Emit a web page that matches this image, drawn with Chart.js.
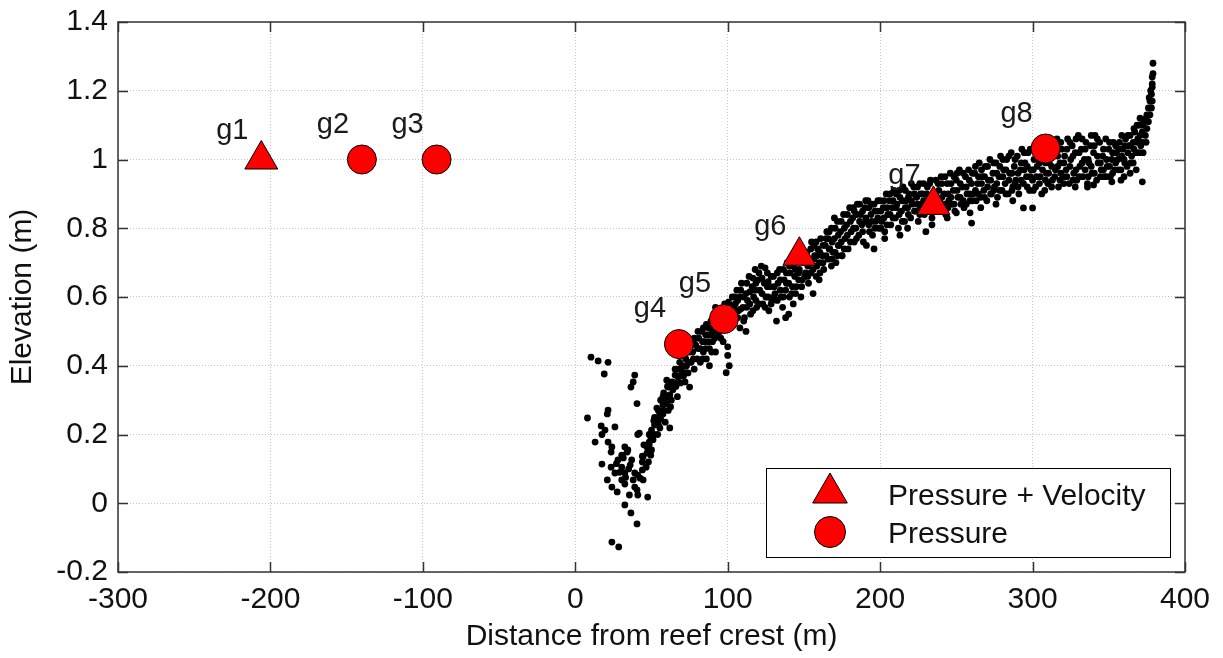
<!DOCTYPE html>
<html><head><meta charset="utf-8">
<script src="https://cdn.jsdelivr.net/npm/chart.js@4.4.0/dist/chart.umd.min.js"></script>
<style>html,body{margin:0;padding:0;background:#fff;}#wrap{width:1223px;height:658px;}</style>
</head><body><div id="wrap"><canvas id="c" width="1223" height="658"></canvas></div>
<script>
const xTickValues = [-300,-200,-100,0,100,200,300,400];
const xTickLabels = ['-300','-200','-100','0','100','200','300','400'];
const yTickValues = [-0.2,0,0.2,0.4,0.6,0.8,1,1.2,1.4];
const yTickLabels = ['-0.2','0','0.2','0.4','0.6','0.8','1','1.2','1.4'];
const xTitle = 'Distance from reef crest (m)';
const yTitle = 'Elevation (m)';
const legendLabels = ['Pressure + Velocity','Pressure'];

const pvNames = ['g1','g6','g7'];
const pvX = [-206,147,235];
const pvY = [1.0,0.72,0.868];
const pNames = ['g2','g3','g4','g5','g8'];
const pX = [-140,-91,68,97.5,308.5];
const pY = [1.0,1.0,0.463,0.536,1.032];

const profileTail = [[10.3,0.425],[15,0.414],[21.5,0.41],[19,0.376],[39,0.373],[38,0.353],[36.5,0.338],[40.5,0.29],[21.5,0.271],[21,0.26],[8,0.248],[17,0.225],[26,0.222],[19.5,0.213],[17.5,0.2],[41,0.2],[13,0.178],[21.5,0.178],[24,0.164],[23.5,0.149],[32.5,0.164],[34,0.149],[30.5,0.14],[44,0.137],[28,0.126],[17.5,0.114],[23.5,0.105],[30.5,0.105],[36,0.111],[44,0.097],[32.5,0.088],[39,0.088],[26,0.088],[21,0.068],[30.5,0.068],[38,0.068],[44.5,0.068],[24,0.047],[32.5,0.056],[27.5,0.033],[40.5,0.039],[35.5,0.024],[41,0.024],[47.5,0.018],[32.5,-0.005],[36.5,-0.028],[40.5,-0.06],[24,-0.113],[28.5,-0.127],[34.5,0.155],[31.5,0.132],[37,0.126],[41,0.082],[42.5,0.073],[39,0.047],[29,0.09],[35,0.1],[27,0.115],[33,0.075]];

const profileLowerSlope = [[47,0.146],[44.5,0.135],[47,0.164],[48.5,0.178],[49.5,0.193],[50,0.213],[52,0.228],[53.5,0.248],[55.5,0.262],[53.5,0.277],[57.5,0.286],[59,0.306],[58,0.321],[62,0.315],[61,0.338],[63.5,0.353],[60,0.358],[65.5,0.373],[67.5,0.367],[70,0.382],[72,0.353],[75,0.338],[74,0.379],[62,0.219],[59,0.236],[55.5,0.219],[50,0.155],[46.5,0.105],[42,0.204],[44,0.12],[49.5,0.14],[45,0.17],[51,0.185],[54,0.2],[56,0.245],[58,0.27],[60,0.29],[61,0.27],[63,0.3],[64,0.33],[66,0.34],[67,0.31],[68,0.39],[69,0.35],[71,0.37],[73,0.4],[56,0.3],[52,0.25],[48,0.12],
[76,0.41],[77,0.44],[78,0.39],[79,0.46],[80,0.42],[81,0.48],[82,0.45],[82,0.41],[83,0.5],[84,0.44],[85,0.47],[86,0.42],[86,0.52],[87,0.49],[88,0.45],[89,0.53],[90,0.47],[90,0.5],[91,0.55],[92,0.44],[93,0.52],[94,0.49],[95,0.56],[96,0.51],[97,0.47],[98,0.58],[99,0.54],[100,0.455],[101,0.4],[99,0.38],[100,0.43],[75,0.44],[78,0.48],[84,0.51],[88,0.4],[92,0.57],[96,0.55],
[48.5,0.17],[48.5,0.2],[51.5,0.2],[51.5,0.24],[54.5,0.23],[54.5,0.27],[57.5,0.26],[57.5,0.31],[60.5,0.31],[60.5,0.34],[62.5,0.34],[62.5,0.28],[65.5,0.35],[65.5,0.39],[68.5,0.41],[68.5,0.37],[70.5,0.4],[70.5,0.43],[72.5,0.42],[72.5,0.38],[74.5,0.41],[74.5,0.45],[77.5,0.42],[77.5,0.47],[80.5,0.45],[80.5,0.5],[83.5,0.47],[83.5,0.42],[85.5,0.49],[85.5,0.45],[87.5,0.51],[87.5,0.47],[89.5,0.49],[89.5,0.44],[91.5,0.52],[91.5,0.48],[93.5,0.5],[93.5,0.55],[95.5,0.53],[95.5,0.48],[97.5,0.51],[97.5,0.56]];

const profileUpperSlope = [[100,0.52],[101,0.57],[102,0.55],[103,0.6],[104,0.53],[105,0.58],[106,0.62],[107,0.56],[108,0.51],[108,0.6],[109,0.64],[110,0.57],[111,0.54],[112,0.61],[113,0.59],[114,0.66],[115,0.55],[116,0.63],[117,0.6],[118,0.68],[119,0.57],[120,0.65],[121,0.62],[122,0.69],[123,0.58],[124,0.64],[125,0.6],[126,0.67],[127,0.56],[128,0.63],[129,0.59],[130,0.66],[131,0.61],[132,0.53],[133,0.64],[134,0.68],[135,0.6],[136,0.57],[137,0.65],[138,0.62],[139,0.7],[140,0.55],[140,0.64],[141,0.67],[142,0.61],[143,0.69],[144,0.66],[145,0.63],[146,0.71],[147,0.68],[148,0.6],[149,0.65],[150,0.7],[138,0.54],[143,0.58],[112,0.5],[104,0.57],[118,0.62],[126,0.63],
[151,0.67],[152,0.73],[153,0.64],[154,0.7],[155,0.76],[156,0.68],[157,0.72],[158,0.66],[159,0.74],[160,0.7],[161,0.77],[162,0.72],[163,0.68],[164,0.75],[165,0.79],[166,0.71],[167,0.74],[168,0.8],[169,0.73],[170,0.77],[171,0.7],[172,0.82],[173,0.75],[174,0.79],[175,0.72],[176,0.84],[177,0.77],[178,0.81],[179,0.74],[180,0.86],[181,0.79],[182,0.83],[183,0.76],[184,0.8],[185,0.87],[186,0.78],[187,0.84],[188,0.81],[189,0.76],[190,0.86],[191,0.82],[192,0.88],[193,0.79],[194,0.84],[195,0.78],[196,0.87],[197,0.82],[198,0.85],[199,0.8],[200,0.88],[156,0.61],[160,0.65],[168,0.69],[172,0.72],[175,0.72],[191,0.75],[196,0.74],[158,0.76],[166,0.77],[183,0.85],[170,0.83],
[100.5,0.55],[100.5,0.585],[102.5,0.52],[102.5,0.575],[104.5,0.6],[104.5,0.555],[106.5,0.54],[106.5,0.59],[108.5,0.565],[108.5,0.62],[110.5,0.6],[110.5,0.53],[112.5,0.57],[112.5,0.64],[114.5,0.58],[114.5,0.615],[116.5,0.56],[116.5,0.655],[118.5,0.59],[118.5,0.64],[120.5,0.58],[120.5,0.67],[122.5,0.61],[122.5,0.655],[124.5,0.57],[124.5,0.685],[126.5,0.6],[126.5,0.645],[128.5,0.58],[128.5,0.66],[130.5,0.63],[130.5,0.6],[132.5,0.59],[132.5,0.67],[134.5,0.62],[134.5,0.65],[136.5,0.6],[136.5,0.68],[138.5,0.64],[138.5,0.67],[140.5,0.6],[140.5,0.69],[142.5,0.63],[142.5,0.7],[144.5,0.61],[144.5,0.68],[146.5,0.65],[146.5,0.67],[148.5,0.63],[148.5,0.72],
[150.5,0.66],[150.5,0.73],[152.5,0.69],[152.5,0.66],[154.5,0.67],[154.5,0.74],[156.5,0.71],[156.5,0.75],[158.5,0.69],[158.5,0.72],[160.5,0.73],[160.5,0.67],[162.5,0.75],[162.5,0.7],[164.5,0.72],[164.5,0.77],[166.5,0.74],[166.5,0.79],[168.5,0.76],[168.5,0.71],[170.5,0.73],[170.5,0.8],[172.5,0.78],[172.5,0.75],[174.5,0.76],[174.5,0.82],[176.5,0.8],[176.5,0.74],[178.5,0.78],[178.5,0.84],[180.5,0.82],[180.5,0.76],[182.5,0.8],[182.5,0.86],[184.5,0.84],[184.5,0.77],[186.5,0.82],[186.5,0.87],[188.5,0.85],[188.5,0.79],[190.5,0.83],[190.5,0.88],[192.5,0.81],[192.5,0.86],[194.5,0.87],[194.5,0.82],[196.5,0.8],[196.5,0.85],[198.5,0.83],[198.5,0.88]];

const profileFlat = [[201,0.82],[202,0.86],[203,0.79],[204,0.9],[205,0.84],[206,0.88],[207,0.81],[208,0.86],[209,0.91],[210,0.83],[211,0.87],[212,0.8],[213,0.89],[214,0.85],[215,0.92],[216,0.82],[217,0.88],[218,0.86],[219,0.9],[220,0.83],[221,0.87],[222,0.92],[223,0.85],[224,0.89],[225,0.82],[226,0.93],[227,0.87],[228,0.9],[229,0.84],[230,0.88],[231,0.92],[232,0.86],[233,0.94],[234,0.83],[236,0.9],[237,0.85],[238,0.93],[239,0.88],[240,0.95],[241,0.86],[242,0.9],[243,0.84],[244,0.93],[245,0.88],[246,0.96],[247,0.87],[248,0.91],[249,0.85],[250,0.94],[251,0.89],[252,0.97],[253,0.87],[254,0.92],[255,0.86],[256,0.95],[257,0.9],[258,0.97],[259,0.88],[260,0.93],[203,0.77],[213,0.78],[234,0.81],[244,0.83],[230,0.79],[218,0.8],[226,0.84],[259,0.845],[250,0.845],[260,0.815],[294,0.859],[300,0.859],
[261,0.9],[262,0.96],[263,0.88],[264,0.93],[265,0.99],[266,0.89],[267,0.95],[268,0.91],[269,0.98],[270,0.88],[271,0.94],[272,1.0],[273,0.9],[274,0.96],[275,0.92],[276,0.99],[277,0.89],[278,0.95],[279,1.01],[280,0.91],[281,0.97],[282,0.93],[283,1.0],[284,0.9],[285,0.96],[286,1.02],[287,0.92],[288,0.98],[289,0.94],[290,1.01],[291,0.9],[292,0.97],[293,1.03],[294,0.93],[295,0.99],[296,0.95],[297,1.02],[298,0.91],[299,0.97],[300,0.94],[301,1.0],[302,0.92],[303,0.98],[304,1.04],[305,0.95],[306,0.9],[307,1.01],[309,0.96],[310,0.93],[311,0.99],[312,1.05],[313,0.94],[314,1.01],[315,0.97],[316,1.06],[317,0.92],[318,0.99],[319,1.03],[320,0.95],[321,1.01],[322,0.97],[323,1.06],[324,0.93],[325,1.0],[326,1.04],[327,0.96],[328,1.02],[329,0.94],[330,1.07],[331,0.98],[332,1.03],[333,0.95],[334,1.0],[335,1.05],[336,0.93],[337,0.99],[338,1.04],[339,0.96],[340,1.02],[341,1.07],[342,0.94],[343,0.99],[344,1.05],[345,0.97],[346,1.01],[347,0.95],[348,1.06],[349,0.98],[350,1.03],[351,0.95],[352,1.0],[353,1.05],[354,0.97],[355,1.02],[352,0.935],[336,0.92],[328,0.92],[318,0.94],[308,0.91],[287,0.88],[276,0.87],[266,0.86],[340,0.926],
[200.5,0.85],[200.5,0.8],[202.5,0.88],[202.5,0.83],[204.5,0.81],[204.5,0.86],[206.5,0.84],[206.5,0.9],[208.5,0.83],[208.5,0.88],[210.5,0.86],[210.5,0.9],[212.5,0.84],[212.5,0.91],[214.5,0.82],[214.5,0.88],[216.5,0.86],[216.5,0.91],[218.5,0.84],[218.5,0.89],[220.5,0.88],[220.5,0.93],[222.5,0.85],[222.5,0.9],[224.5,0.87],[224.5,0.92],[226.5,0.86],[226.5,0.9],[228.5,0.88],[228.5,0.93],[230.5,0.86],[230.5,0.9],[232.5,0.89],[232.5,0.93],[236.5,0.88],[236.5,0.94],[238.5,0.86],[238.5,0.91],[240.5,0.89],[240.5,0.93],[242.5,0.87],[242.5,0.95],[244.5,0.9],[244.5,0.86],[246.5,0.89],[246.5,0.93],[248.5,0.87],[248.5,0.95],[250.5,0.91],[250.5,0.96],[252.5,0.89],[252.5,0.93],[254.5,0.88],[254.5,0.96],[256.5,0.92],[256.5,0.87],[258.5,0.9],[258.5,0.94],
[260.5,0.88],[260.5,0.96],[262.5,0.91],[262.5,0.98],[264.5,0.9],[264.5,0.95],[266.5,0.93],[266.5,0.97],[268.5,0.89],[268.5,0.95],[270.5,0.92],[270.5,0.98],[272.5,0.94],[272.5,0.9],[274.5,0.91],[274.5,0.99],[276.5,0.93],[276.5,0.96],[278.5,0.91],[278.5,0.98],[280.5,0.95],[280.5,1.0],[282.5,0.9],[282.5,0.97],[284.5,0.94],[284.5,1.01],[286.5,0.96],[286.5,0.91],[288.5,0.93],[288.5,1.0],[290.5,0.96],[290.5,0.92],[292.5,0.94],[292.5,0.99],[294.5,0.97],[294.5,1.02],[296.5,0.92],[296.5,0.98],[298.5,0.95],[298.5,1.03],[300.5,0.97],[300.5,0.91],[302.5,0.95],[302.5,1.01],[304.5,0.93],[304.5,0.99],[306.5,0.97],[306.5,1.03],[308.5,0.94],[308.5,0.99],[310.5,0.96],[310.5,1.02],[312.5,0.92],[312.5,0.98],[314.5,0.95],[314.5,1.04],[316.5,0.98],[316.5,1.01],[318.5,0.96],[318.5,1.05],[320.5,0.93],[320.5,0.99],[322.5,1.03],[322.5,0.95],[324.5,0.98],[324.5,1.05],[326.5,0.94],[326.5,1.01],[328.5,0.97],[328.5,1.06],[330.5,0.95],[330.5,1.02],[332.5,0.99],[332.5,1.06],[334.5,0.97],[334.5,1.03],[336.5,1.0],[336.5,0.95],[338.5,0.98],[338.5,1.07],[340.5,0.96],[340.5,1.04],[342.5,1.01],[342.5,1.06],[344.5,0.95],[344.5,0.99],[346.5,1.03],[346.5,0.97],[348.5,1.0],[348.5,0.95],[350.5,0.98],[350.5,1.05],[352.5,1.02],[352.5,0.96],[354.5,0.99],[354.5,1.04],[356.5,1.03],[356.5,0.97]];

const profileRise = [[356,1.0],[357,1.05],[358,0.97],[359,1.03],[360,1.0],[361,1.06],[362,0.98],[363,1.04],[364,1.07],[365,1.01],[366,1.05],[367,1.08],[368,1.02],[369,1.06],[370,1.1],[371,1.04],[372,1.08],[373,1.11],[374,1.07],[375,1.13],[375,1.09],[376,1.15],[376,1.11],[377,1.17],[377,1.13],[378,1.19],[378,1.15],[378.5,1.22],[379,1.25],[379,1.28],[378.5,1.21],[370,1.02],[372,1.05],[366,0.99],[364,0.96],[360,0.95],[358,0.94],[368,0.97],[372,0.935],
[358.5,1.01],[358.5,1.07],[360.5,1.04],[360.5,0.99],[362.5,1.02],[362.5,1.07],[364.5,1.04],[364.5,0.99],[366.5,1.03],[366.5,1.09],[368.5,1.05],[368.5,1.1],[370.5,1.07],[370.5,1.12],[372.5,1.1],[372.5,1.02],[374.5,1.12],[374.5,1.05],[376.5,1.13],[376.5,1.18],[377.5,1.15],[377.5,1.2],[378.5,1.17],[378.5,1.24]];

const FONT = '"Liberation Sans", Arial, Helvetica, sans-serif';
const RED = '#ff0000';
const FRAME = '#333333';

const profile = [].concat(profileTail, profileLowerSlope, profileUpperSlope, profileFlat, profileRise).map(p => ({x: p[0], y: p[1]}));
const pvData = pvX.map((x, i) => ({x, y: pvY[i]}));
const pData = pX.map((x, i) => ({x, y: pY[i]}));

const framePlugin = {
  id: 'frameTicks',
  afterDatasetsDraw(chart) {
    const ctx = chart.ctx, a = chart.chartArea, xs = chart.scales.x, ys = chart.scales.y;
    ctx.save();
    ctx.strokeStyle = FRAME; ctx.lineWidth = 1.5;
    ctx.strokeRect(a.left, a.top, a.right - a.left, a.bottom - a.top);
    ctx.beginPath();
    xTickValues.forEach(v => {
      const px = Math.round(xs.getPixelForValue(v)) + 0.5;
      ctx.moveTo(px, a.bottom); ctx.lineTo(px, a.bottom - 10);
      ctx.moveTo(px, a.top); ctx.lineTo(px, a.top + 10);
    });
    yTickValues.forEach(v => {
      const py = Math.round(ys.getPixelForValue(v)) + 0.5;
      ctx.moveTo(a.left, py); ctx.lineTo(a.left + 10, py);
      ctx.moveTo(a.right, py); ctx.lineTo(a.right - 10, py);
    });
    ctx.stroke();
    ctx.fillStyle = '#1a1a1a';
    ctx.font = '29px ' + FONT;
    ctx.textAlign = 'center'; ctx.textBaseline = 'alphabetic';
    chart.getDatasetMeta(0).data.forEach((el, i) => ctx.fillText(pvNames[i], el.x - 29, el.y - 21));
    chart.getDatasetMeta(1).data.forEach((el, i) => ctx.fillText(pNames[i], el.x - 29, el.y - 27));
    ctx.restore();
  },
  afterDraw(chart) {
    const ctx = chart.ctx;
    ctx.save();
    const L = 766.5, T = 468.5, W = 404, H = 89;
    ctx.fillStyle = '#fff'; ctx.fillRect(L, T, W, H);
    ctx.strokeStyle = '#000'; ctx.lineWidth = 1; ctx.strokeRect(L, T, W, H);
    const tx = 830, ty = 493, tr = 20;
    ctx.beginPath();
    ctx.moveTo(tx, ty - tr);
    ctx.lineTo(tx + Math.sin(2*Math.PI/3)*tr, ty - Math.cos(2*Math.PI/3)*tr);
    ctx.lineTo(tx + Math.sin(4*Math.PI/3)*tr, ty - Math.cos(4*Math.PI/3)*tr);
    ctx.closePath();
    ctx.fillStyle = RED; ctx.fill(); ctx.strokeStyle = '#000'; ctx.stroke();
    ctx.beginPath(); ctx.arc(830, 532, 15.5, 0, Math.PI*2);
    ctx.fill(); ctx.stroke();
    ctx.fillStyle = '#111'; ctx.font = '30px ' + FONT;
    ctx.textAlign = 'left'; ctx.textBaseline = 'alphabetic';
    ctx.fillText(legendLabels[0], 888, 505);
    ctx.fillText(legendLabels[1], 888, 543);
    ctx.restore();
  }
};

new Chart(document.getElementById('c'), {
  type: 'scatter',
  data: {
    datasets: [
      {label: legendLabels[0], data: pvData, pointStyle: 'triangle', pointRadius: 19, backgroundColor: RED, borderColor: '#000', borderWidth: 1},
      {label: legendLabels[1], data: pData, pointStyle: 'circle', pointRadius: 14.5, backgroundColor: RED, borderColor: '#000', borderWidth: 1},
      {label: 'profile', data: profile, pointStyle: 'circle', pointRadius: 3.4, backgroundColor: '#000', borderWidth: 0}
    ]
  },
  options: {
    responsive: false, animation: false, devicePixelRatio: 1, events: [],
    layout: {padding: {top: 22, right: 38, left: 0, bottom: 0}},
    plugins: {legend: {display: false}, tooltip: {enabled: false}},
    scales: {
      x: {
        type: 'linear', min: -300, max: 400,
        afterBuildTicks: s => { s.ticks = xTickValues.map(v => ({value: v})); },
        afterFit: s => { s.height = 86; s.paddingLeft = 0; s.paddingRight = 0; },
        ticks: {callback: (v, i) => xTickLabels[i], color: '#111', font: {family: FONT, size: 30}, padding: 10, maxRotation: 0, autoSkip: false},
        grid: {color: '#c4c4c4', lineWidth: 1, drawTicks: false},
        border: {display: false, dash: [1, 2]},
        title: {display: true, text: xTitle, color: '#111', font: {family: FONT, size: 30}, padding: {top: 0, bottom: 3}}
      },
      y: {
        type: 'linear', min: -0.2, max: 1.4,
        afterBuildTicks: s => { s.ticks = yTickValues.map(v => ({value: v})); },
        afterFit: s => { s.width = 118; s.paddingTop = 0; s.paddingBottom = 0; },
        ticks: {callback: (v, i) => yTickLabels[i], color: '#111', font: {family: FONT, size: 30}, padding: 10, autoSkip: false},
        grid: {color: '#c4c4c4', lineWidth: 1, drawTicks: false},
        border: {display: false, dash: [1, 2]},
        title: {display: true, text: yTitle, color: '#111', font: {family: FONT, size: 30}, padding: {top: 5, bottom: 0}}
      }
    }
  },
  plugins: [framePlugin]
});
</script>
</body></html>
